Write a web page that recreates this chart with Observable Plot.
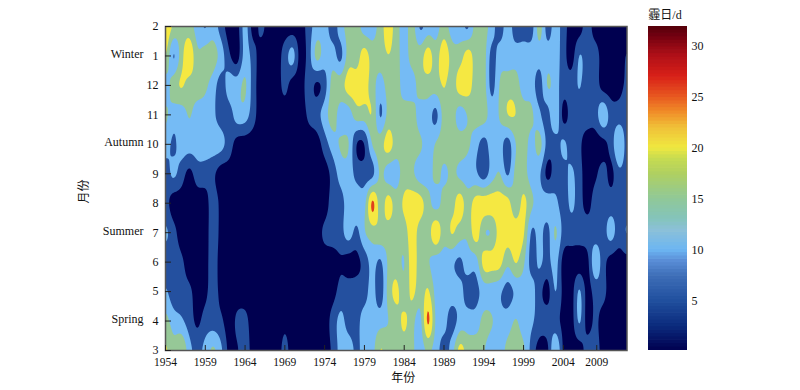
<!DOCTYPE html>
<html><head><meta charset="utf-8">
<script src="https://cdn.jsdelivr.net/npm/d3@7"></script>
<script src="https://cdn.jsdelivr.net/npm/@observablehq/plot@0.6"></script>
<style>
html,body{margin:0;padding:0;background:#fff}
#wrap{display:flex;width:800px;height:390px;overflow:hidden}
svg{display:block;flex:none}
</style></head><body><div id="wrap"></div>
<script>
// Monthly haze days, one array per month, 1954..2012
const m3 = [21,17,20,12,8,12,16,11,3.5,4.5, 7.5,3,2.5,2.5,2.5,6.5,2.5,2.5,2.5,2.5, 2.5,6,12,12.5,9,12,13,20.5,17.5,17.5, 17.5,16,12.5,16,12.5,7.5,12.5,22,17.5,17.5, 15.5,12,12.5,16.5,17.5,16,8,3,3.5,16, 4,2.5,2.5,7,7.5,3,2.5,2.5,2.5];
const m4 = [17,12.5,11,7.5,4,7,7.5,6,2.5,6, 6.5,2.5,2.5,2.5,2.5,4,2.5,2.5,2.5,2.5, 2.5,7,11.5,8,8.5,12,12.5,13,15,17.5, 21,17,13,26.5,13.5,12,7.5,12,12.5,12.5, 16.5,15.5,12,12.5,15.5,12.5,11,7.5,7.5,7, 3.5,2.5,11,3,6,3,2.5,2.5,2.5];
const m5 = [11,7,7,6,3,4,7,3.5,2.5,2.5, 2.5,2.5,2.5,2.5,2.5,2.5,2.5,2.5,2.5,2.5, 2.5,3,7,7.5,7.5,8,12,7,17,21.5, 16.5,21.5,17,21,13,12.5,12.5,11.5,8,8, 12.5,12.5,11,8,11,12.5,12,7,3,10.5, 3.5,2.5,11,3,7,6.5,2.5,2.5,2.5];
const m6 = [7.5,7.5,6,2.5,2.5,3.5,7,3,2.5,2.5, 2.5,2.5,2.5,2.5,2.5,2.5,2.5,2.5,2.5,2.5, 2.5,2.5,4.5,3,3.5,7,12,9,16,17.5, 14.5,23,17,15.5,12.5,12.5,11,9,12.5,12.5, 22,22,22,16,20.5,16,8,11,8,12.5, 3,2.5,2.5,3,14,7,3,2.5,3.5];
const m7 = [11,7,2.5,2.5,2.5,3,7.5,3.5,2.5,2.5, 2.5,2.5,2.5,2.5,2.5,2.5,2.5,2.5,2.5,3, 6,7.5,8,12.5,8.5,14.5,17.5,18.5,17.5,17.5, 17.5,23,17.5,17.5,24,17,20.5,17.5,16,23, 15.5,15.5,22.5,22.5,22.5,21,9,12,8,16, 8,7.5,7.5,7.5,7.5,8,12,7.5,10.5];
const m8 = [7,2.5,2.5,2.5,2.5,3,7.5,3.5,2.5,2.5, 2.5,2.5,2.5,2.5,2.5,2.5,2.5,2.5,2.5,2.5, 2.5,7.5,8,12.5,12.5,13,26.5,17,22.5,17.5, 21,23,22,17,13,17,18,22.5,17.5,22.5, 22.5,22.5,22.5,22,16.5,21.5,16,12.5,12.5,11.5, 7.5,11,7.5,3,7.5,7.5,7.5,7.5,7.5];
const m9 = [7.5,11,7.5,3.5,7.5,7.5,6,2.5,2.5,2.5, 2.5,2.5,2.5,2.5,2.5,2.5,2.5,2.5,2.5,2.5, 2.5,7,12,12.5,8.5,7.5,8.5,16,12.5,12.5, 17.5,16,12.5,12.5,16.5,14,16,14,12.5,11, 7.5,12.5,15.5,9,16.5,17,12.5,11,3.5,7.5, 8,11,7,2.5,4,7,3.5,9,7.5];
const m10 = [12.5,9,12.5,12.5,12.5,12.5,12.5,11.5,7.5,3, 2.5,2.5,2.5,2.5,2.5,2.5,2.5,2.5,2.5,2.5, 7.5,12.5,15.5,15.5,4.9,4.9,15.5,17.5,22.5,17.5, 17.5,17.5,16,12.5,15.5,17.5,17.5,17.5,16,12, 8,12.5,12.5,7.5,15,17.5,13,17,8,7.5, 11,7.5,6,2.5,2.5,3.5,7,15,7.5];
const m11 = [16,12.5,12.5,15.5,12.5,12.5,11,7.5,7.5,12.5, 12.5,7,2.5,2.5,2.5,2.5,2.5,2.5,6,8, 12.5,17.5,12.5,12.5,17.5,17.5,20,9,17,15.5, 17.5,17.5,12.5,12.5,8.5,17.5,17.5,12.5,15.5,17.5, 17.5,12.5,15.5,20,20,17.5,16,11,7.5,15.5, 3,7.5,7.5,7.5,7.5,14,7.5,7.5,7.5];
const m12 = [12.5,17.5,20.5,18,17.5,16,12.5,7.5,12.5,12.5, 16,7.5,2.5,2.5,2.5,6.5,2.5,2.5,7.5,4, 7.5,17.5,17.5,22.5,22.5,22,17.5,12.5,17.5,17.5, 12.5,12.5,17.5,17.5,17.5,20.5,17.5,22.5,22.5,17.5, 17.5,8,15.5,17.5,17.5,12.5,12.5,7.5,15.5,12.5, 7.5,7.5,10.4,7.5,7.5,3,2.5,3.5,6];
const m1 = [21,9.2,18,24,16,17.5,17.5,12.5,6,2.5, 12.5,7.5,2.5,2.5,2.5,7.5,12,2.5,7.5,16.5, 12.5,12.5,8.5,17.5,17.5,22.5,17.5,17.5,20,17.5, 12.5,17.5,17.5,22.5,17.5,24,17.5,17.5,22.5,17.5, 17.5,8,12.5,12.5,12.5,12.5,12.5,12.5,12.5,12.5, 7.5,2.5,10.4,7.5,7.5,2.5,2.5,2.5,5.5];
const m2 = [25,19,17.5,17.5,12.5,9.5,12.5,7.5,2.5,2.5, 12.5,2.5,6.5,2.5,2.5,2.5,2.5,2.5,7.5,12.5, 12.5,7.5,12.5,17.5,17.5,12.5,12.5,17.5,22.5,17.5, 12.5,17.5,9,12.5,12.5,17.5,12.5,12.5,9,17.5, 17.5,12.5,7.5,12.5,7.5,7.5,7.5,17.5,7.5,12.5, 7.5,2.5,2.5,7.5,2.5,2.5,2.5,2.5,2.5];
const rows = [m3,m4,m5,m6,m7,m8,m9,m10,m11,m12,m1,m2];

const firstYear = 1954, lastYear = 2012;
const monthLabels = [3,4,5,6,7,8,9,10,11,12,1,2];
const yearTicks = [1954,1959,1964,1969,1974,1979,1984,1989,1994,1999,2004,2008.2];
const yearLabels = ["1954","1959","1964","1969","1974","1979","1984","1989","1994","1999","2004","2009"];
const seasons = ["Spring","Summer","Autumn","Winter"];
const seasonRows = [1,4,7,10];
const levels = [5,10,15,20,25];
const levelColors = ["#000050","#24509f","#75bbf5","#96c897","#f5e842","#e0401c"];
const barStops = [0.2,2.5,5,7.5,9,10,12,13,15,17.5,19,20,22,23.5,25,27,29,31,32];
const barColors = ["#000050","#0b2a7c","#204f9e","#3f6fb8","#5b8fd8","#6cb6f2","#8cc0d8","#84c4bc","#90c898","#b0d060","#c8dc50","#f0e840","#f0c038","#f08c28","#e85820","#d82018","#b01018","#700010","#500008"];
const barTicks = [5,10,15,20,25,30];

const cr = (a,b,c,d,t)=>0.5*((2*b)+(-a+c)*t+(2*a-5*b+4*c-d)*t*t+(-a+3*b-3*c+d)*t*t*t);
const clampI = (i,n)=>Math.max(0,Math.min(n-1,i));
function days(year,row){
  const fx = year-firstYear, fy = row;
  const ix = Math.floor(fx), iy = Math.floor(fy), tx = fx-ix, ty = fy-iy;
  const col = j=>{
    const r = rows[clampI(j,12)];
    return cr(r[clampI(ix-1,59)],r[clampI(ix,59)],r[clampI(ix+1,59)],r[clampI(ix+2,59)],tx);
  };
  return cr(col(iy-1),col(iy),col(iy+1),col(iy+2),ty);
}
const font = '"Liberation Serif","Noto Sans CJK SC",serif';
const main = Plot.plot({
  width:640,height:390,marginLeft:165,marginRight:13.5,marginTop:26,marginBottom:40,
  style:{fontFamily:font,fontSize:"12px",color:"#111",background:"#fff"},
  x:{domain:[firstYear,lastYear],label:null},
  y:{domain:[0,11],label:null},
  color:{type:"threshold",domain:levels,range:levelColors},
  marks:[
    Plot.contour({x1:firstYear,x2:lastYear,y1:0,y2:11,value:days,fill:"value",thresholds:[0,...levels],pixelSize:1,blur:1}),
    Plot.frame({stroke:"#555",strokeWidth:1.5}),
    Plot.axisX({ticks:yearTicks,tickSize:-5,tickPadding:12.5,fontSize:11.5,tickFormat:d=>yearLabels[yearTicks.indexOf(d)],label:null,stroke:"#222"}),
    Plot.axisY({ticks:d3.range(12),tickSize:-6,tickPadding:13,tickFormat:i=>monthLabels[i],label:null,stroke:"#222"}),
    Plot.text(seasons,{y:(d,i)=>seasonRows[i],frameAnchor:"left",dx:-22,dy:-2,textAnchor:"end",fontSize:12}),
    Plot.text(["年份"],{frameAnchor:"bottom",dx:7,dy:31,fontSize:12}),
    Plot.text(["月份"],{frameAnchor:"left",dx:-81,dy:15,rotate:-90,fontSize:12})
  ]
});
const barScale = d3.scaleLinear(barStops,barColors);
const barBins = d3.range(0.2,31.9,0.33);
const bar = Plot.plot({
  width:160,height:390,marginLeft:8,marginRight:113,marginTop:26,marginBottom:40,
  style:{fontFamily:font,fontSize:"12px",color:"#111",background:"#fff"},
  x:{axis:null,domain:[0,1]},
  y:{domain:[0.2,31.9],label:null},
  marks:[
    Plot.rect(barBins,{x1:0,x2:1,y1:d=>d,y2:d=>Math.min(d+0.4,31.9),fill:d=>barScale(d+0.16)}),
    Plot.axisY({anchor:"right",ticks:barTicks,tickSize:0,tickPadding:4,label:null}),
    Plot.text(["霾日/d"],{frameAnchor:"top",dx:-3,dy:-16,fontSize:12})
  ]
});
document.getElementById("wrap").append(main,bar);
</script></body></html>
